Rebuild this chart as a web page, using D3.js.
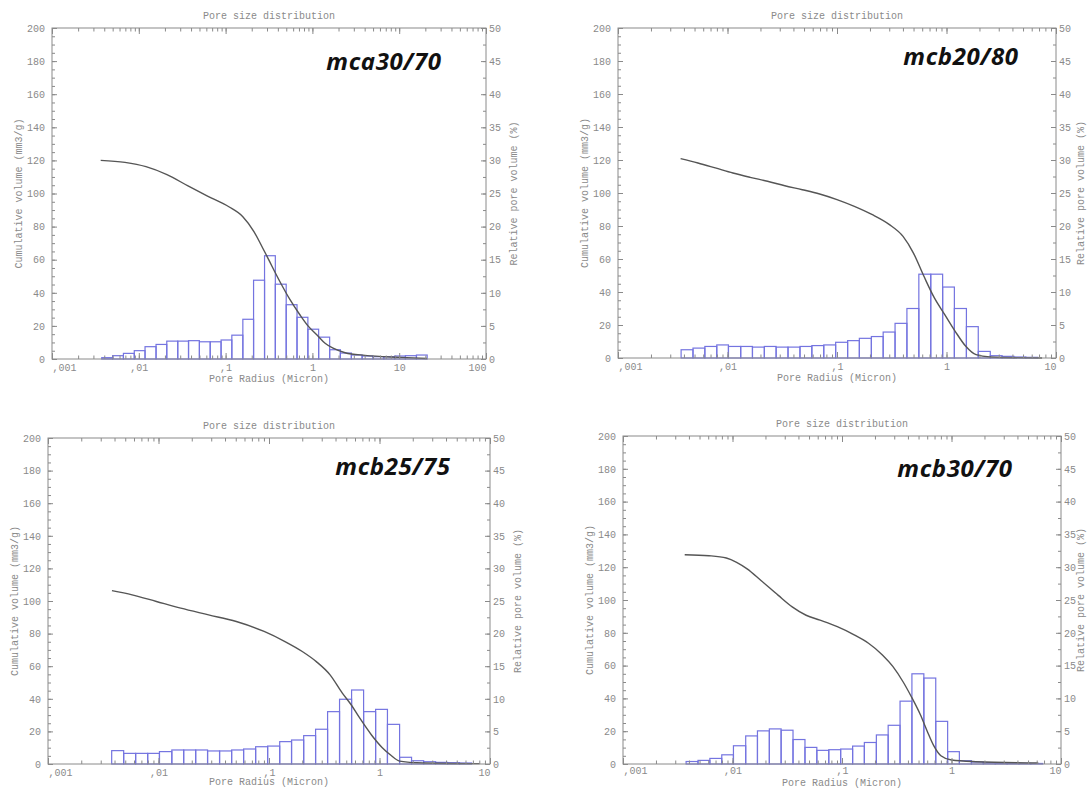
<!DOCTYPE html>
<html>
<head>
<meta charset="utf-8">
<script src="https://cdn.jsdelivr.net/npm/d3@7"></script>
<style>
  html, body { margin: 0; padding: 0; background: #fff; }
  svg { display: block; }
  .tick text { font-family: "Liberation Mono", "DejaVu Sans Mono", monospace; font-size: 10px; fill: #8a8a8a; }
  .tick line { stroke: #8a8a8a; }
  .lbl { font-family: "Liberation Mono", "DejaVu Sans Mono", monospace; font-size: 10px; fill: #8a8a8a; }
  .sample { font-family: "Open Sans", "Lato", sans-serif; font-weight: 700; font-style: italic; font-size: 24px; letter-spacing: 0.6px; fill: #111; }
</style>
</head>
<body>
<svg id="chart" width="1087" height="789"></svg>
<script>
// ---- data -------------------------------------------------------------
// Sample names
const sampleNames = ["mca30/70", "mcb20/80", "mcb25/75", "mcb30/70"];

// Histogram class limits (pore radius, micron)
const binEdgesA = [0.00374, 0.00499, 0.00665, 0.00887, 0.0118, 0.0158, 0.0210, 0.0281, 0.0374, 0.0499,
                   0.0665, 0.0887, 0.118, 0.158, 0.210, 0.281, 0.374, 0.499, 0.665, 0.887,
                   1.18, 1.58, 2.10, 2.81, 3.74, 4.99, 6.65, 8.87, 11.8, 15.8, 21.0];
const binEdgesB = [0.00377, 0.00484, 0.00621, 0.00798, 0.0102, 0.0132, 0.0169, 0.0217, 0.0278, 0.0357,
                   0.0459, 0.0589, 0.0757, 0.0972, 0.125, 0.160, 0.206, 0.264, 0.339, 0.435,
                   0.559, 0.718, 0.922, 1.18, 1.52, 1.95, 2.51, 3.22, 4.13, 5.30, 6.81];

// Relative pore volume per class (%)
const relMca3070 = [0.2, 0.5, 0.85, 1.26, 1.86, 2.2, 2.7, 2.7, 2.77, 2.6, 2.6, 2.87, 3.6, 6.0, 11.9,
                    15.6, 11.3, 8.2, 6.3, 4.5, 3.3, 1.4, 0.9, 0.6, 0.45, 0.35, 0.35, 0.45, 0.5, 0.6];
const relMcb2080 = [1.25, 1.5, 1.75, 1.98, 1.75, 1.75, 1.65, 1.75, 1.65, 1.65, 1.75, 1.88, 1.98, 2.38, 2.63,
                    2.98, 3.25, 3.93, 5.25, 7.5, 12.7, 12.7, 10.75, 7.5, 4.75, 1.0, 0.35, 0.25, 0.15, 0.1];
const relMcb2575 = [2.05, 1.63, 1.63, 1.63, 1.9, 2.15, 2.15, 2.15, 2.0, 2.0, 2.15, 2.3, 2.65, 2.75, 3.43,
                    3.68, 4.35, 5.33, 8.03, 9.93, 11.35, 8.03, 8.38, 6.08, 1.03, 0.5, 0.35, 0.25, 0.2, 0.15];
const relMcb3070 = [0.38, 0.55, 0.85, 1.4, 2.78, 4.28, 5.05, 5.35, 5.15, 3.73, 2.53, 2.08, 2.18, 2.28, 2.73,
                    3.28, 4.43, 5.9, 9.58, 13.75, 13.1, 6.5, 1.88, 0.5, 0.3, 0.2, 0.15, 0.12, 0.1, 0.08];

// Cumulative volume curves: [pore radius (micron), volume (mm3/g)]
const cumMca3070 = [[0.00364, 120], [0.00693, 118.8], [0.0121, 116.2], [0.0211, 111.4], [0.0369, 104.6],
                    [0.0627, 98.3], [0.109, 92], [0.158, 86], [0.212, 77], [0.262, 68], [0.300, 62],
                    [0.42, 47], [0.55, 36], [0.72, 26.6], [0.89, 20], [1.13, 14.5], [1.40, 9.5],
                    [1.73, 6.5], [2.38, 3.8], [4.04, 2.2], [10.2, 1], [20.9, 0.3]];
const cumMcb2080 = [[0.00373, 120.8], [0.00537, 118.2], [0.00774, 115.2], [0.0112, 112.1], [0.0161, 109.5],
                    [0.0232, 107.1], [0.0334, 104.4], [0.0482, 102], [0.0694, 99.4], [0.1, 96],
                    [0.144, 91.9], [0.208, 87], [0.299, 81], [0.401, 73.7], [0.499, 63.6],
                    [0.622, 49.5], [0.775, 36.4], [0.964, 26.3], [1.2, 16.2], [1.5, 7.1], [1.86, 2],
                    [2.49, 0.6], [7.46, 0]];
const cumMcb2575 = [[0.00379, 106.4], [0.00577, 103.8], [0.00957, 99.7], [0.0159, 95.6], [0.0284, 91.5],
                    [0.0506, 87.4], [0.0903, 81.3], [0.1395, 75.1], [0.2, 69], [0.268, 62.8],
                    [0.357, 54.7], [0.461, 43.5], [0.552, 36.5], [0.65, 29], [0.853, 17.5],
                    [1.06, 10], [1.26, 5.5], [1.52, 1.8], [2.19, 0.8], [8.05, 0.2]];
const cumMcb3070 = [[0.00366, 127.6], [0.0061, 127], [0.00878, 125.6], [0.0109, 123], [0.0136, 119],
                    [0.0182, 111.9], [0.0262, 102.8], [0.0351, 95.8], [0.047, 90.7], [0.063, 87.7],
                    [0.0906, 83.7], [0.1305, 78.6], [0.1746, 73.6], [0.234, 66.5], [0.291, 59.5],
                    [0.362, 50], [0.43, 41], [0.52, 30], [0.6, 20], [0.69, 11], [0.8, 5],
                    [1.0, 2.4], [1.67, 1.4], [6.2, 0.6]];

// Axis ticks and labels
const cumTicks = [0, 20, 40, 60, 80, 100, 120, 140, 160, 180, 200];
const relTicks = [0, 5, 10, 15, 20, 25, 30, 35, 40, 45, 50];
const radiusTicksA = [0.001, 0.01, 0.1, 1, 10, 100];
const radiusLabelsA = [",001", ",01", ",1", "1", "10", "100"];
const radiusTicksB = [0.001, 0.01, 0.1, 1, 10];
const radiusLabelsB = [",001", ",01", ",1", "1", "10"];

// Texts
const titleText = "Pore size distribution";
const xTitle = "Pore Radius (Micron)";
const yLeftTitle = "Cumulative volume (mm3/g)";
const yRightTitle = "Relative pore volume (%)";

// ---- layout -----------------------------------------------------------
const W = 1087, H = 789;
const panels = [
  { name: sampleNames[0], edges: binEdgesA, rel: relMca3070, cum: cumMca3070, ticks: radiusTicksA, labels: radiusLabelsA,
    box: [52, 28, 486, 359], tag: [384, 70], pad: 5, xt: 23 },
  { name: sampleNames[1], edges: binEdgesB, rel: relMcb2080, cum: cumMcb2080, ticks: radiusTicksB, labels: radiusLabelsB,
    box: [618, 28, 1056, 358], tag: [961, 65], pad: 5, xt: 23 },
  { name: sampleNames[2], edges: binEdgesB, rel: relMcb2575, cum: cumMcb2575, ticks: radiusTicksB, labels: radiusLabelsB,
    box: [48, 438, 490, 764], tag: [393, 475], pad: 5, xt: 21 },
  { name: sampleNames[3], edges: binEdgesB, rel: relMcb3070, cum: cumMcb3070, ticks: radiusTicksB, labels: radiusLabelsB,
    box: [623, 436, 1061, 764], tag: [955, 477], pad: 3, xt: 22 }
];

const AXIS = "#8a8a8a";
const BAR = "#7474e0";
const CURVE = "#555";

const svg = d3.select("#chart");

panels.forEach(p => {
  const [x0, y0, x1, y1] = p.box;
  const g = svg.append("g");

  const x = d3.scaleLog().domain([p.ticks[0], p.ticks[p.ticks.length - 1]]).range([x0, x1]);
  const yL = d3.scaleLinear().domain([0, 200]).range([y1, y0]);
  const yR = d3.scaleLinear().domain([0, 50]).range([y1, y0]);

  // histogram of relative pore volume
  g.append("g").selectAll("rect").data(p.rel).join("rect")
    .attr("x", (d, i) => x(p.edges[i]))
    .attr("width", (d, i) => x(p.edges[i + 1]) - x(p.edges[i]))
    .attr("y", d => yR(d))
    .attr("height", d => yR(0) - yR(d))
    .attr("fill", "none")
    .attr("stroke", BAR)
    .attr("stroke-width", 1.2);

  // cumulative intrusion curve
  const line = d3.line().x(d => x(d[0])).y(d => yL(d[1])).curve(d3.curveMonotoneX);
  g.append("path").datum(p.cum)
    .attr("d", line)
    .attr("fill", "none")
    .attr("stroke", CURVE)
    .attr("stroke-width", 1.4);

  // left axis: major and minor ticks pointing inward
  g.append("g").attr("transform", `translate(${x0},0)`)
    .call(d3.axisLeft(yL).tickValues(cumTicks).tickSize(-5).tickPadding(7));
  g.append("g").attr("transform", `translate(${x0},0)`)
    .call(d3.axisLeft(yL).tickValues(d3.range(0, 201, 5)).tickSize(-3).tickFormat(""));

  // right axis
  g.append("g").attr("transform", `translate(${x1},0)`)
    .call(d3.axisRight(yR).tickValues(relTicks).tickSize(-5).tickPadding(3));
  g.append("g").attr("transform", `translate(${x1},0)`)
    .call(d3.axisRight(yR).tickValues(d3.range(0, 50.1, 2.5)).tickSize(-3).tickFormat(""));

  // bottom axis with decade labels
  const bottom = g.append("g").attr("transform", `translate(0,${y1})`)
    .call(d3.axisBottom(x).tickValues(p.ticks).tickSize(-6).tickPadding(p.pad)
      .tickFormat((d, i) => p.labels[i]));
  bottom.selectAll(".tick text")
    .attr("text-anchor", (d, i) => i === 0 ? "start" : (i === p.ticks.length - 1 ? "end" : "middle"));
  g.append("g").attr("transform", `translate(0,${y1})`)
    .call(d3.axisBottom(x).tickValues(x.ticks()).tickSize(-3.5).tickFormat(""));

  // top axis
  g.append("g").attr("transform", `translate(0,${y0})`)
    .call(d3.axisTop(x).tickValues(p.ticks).tickSize(-6).tickFormat(""));
  g.append("g").attr("transform", `translate(0,${y0})`)
    .call(d3.axisTop(x).tickValues(x.ticks()).tickSize(-3.5).tickFormat(""));

  g.selectAll(".domain").remove();

  // frame
  g.append("rect")
    .attr("x", x0).attr("y", y0).attr("width", x1 - x0).attr("height", y1 - y0)
    .attr("fill", "none").attr("stroke", AXIS).attr("stroke-width", 1);

  // titles
  g.append("text").attr("class", "lbl")
    .attr("x", (x0 + x1) / 2).attr("y", y0 - 9).attr("text-anchor", "middle")
    .text(titleText);
  g.append("text").attr("class", "lbl")
    .attr("x", (x0 + x1) / 2).attr("y", y1 + p.xt).attr("text-anchor", "middle")
    .text(xTitle);
  g.append("text").attr("class", "lbl")
    .attr("transform", `translate(${x0 - 30},${(y0 + y1) / 2}) rotate(-90)`)
    .attr("text-anchor", "middle")
    .text(yLeftTitle);
  g.append("text").attr("class", "lbl")
    .attr("transform", `translate(${Math.min(x1 + 31, W - 3)},${(y0 + y1) / 2}) rotate(-90)`)
    .attr("text-anchor", "middle")
    .text(yRightTitle);

  // sample name
  g.append("text").attr("class", "sample")
    .attr("x", p.tag[0]).attr("y", p.tag[1]).attr("text-anchor", "middle")
    .text(p.name);
});
</script>
</body>
</html>
